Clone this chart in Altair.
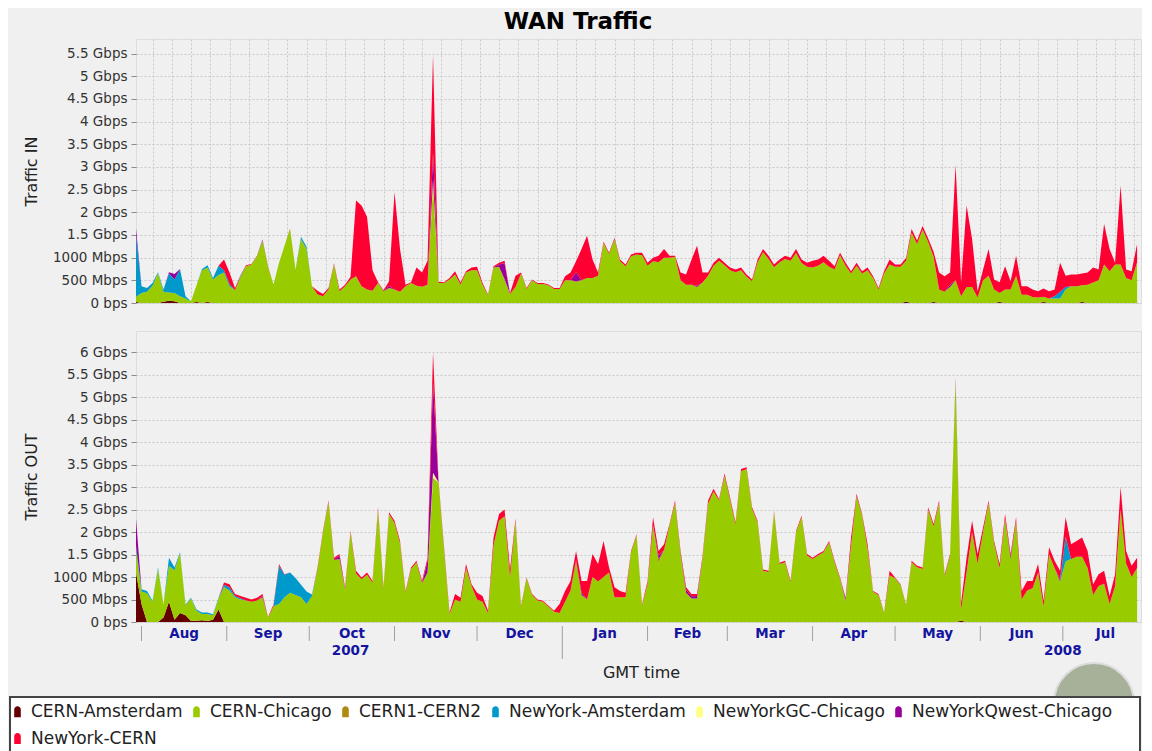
import altair as alt
import pandas as pd

# ---------------------------------------------------------------- data
START = pd.Timestamp("2007-07-30")
STEP = 2  # days between samples

SERIES = ["CERN-Amsterdam", "CERN-Chicago", "CERN1-CERN2", "NewYork-Amsterdam",
          "NewYorkGC-Chicago", "NewYorkQwest-Chicago", "NewYork-CERN"]
COLORS = ["#660000", "#99CC00", "#B08A10", "#0099CC", "#FFFF80", "#990099", "#FF0033"]

# Traffic IN, Gbps, one sample every 2 days from 2007-07-30
IN_CERN_CHICAGO = [
    0.12, 0.22, 0.25, 0.38, 0.66, 0.22, 0.18, 0.18, 0.15, 0.10,
    0.04, 0.37, 0.72, 0.76, 0.52, 0.62, 0.67, 0.37, 0.28, 0.58,
    0.81, 0.85, 1.03, 1.37, 0.80, 0.41, 0.89, 1.26, 1.63, 0.74,
    1.41, 1.19, 0.37, 0.19, 0.15, 0.30, 0.85, 0.26, 0.37, 0.52,
    0.59, 0.37, 0.30, 0.27, 0.44, 0.26, 0.33, 0.30, 0.25, 0.37,
    0.44, 0.38, 0.36, 0.40, 2.60, 0.44, 0.44, 0.52, 0.63, 0.41,
    0.67, 0.72, 0.72, 0.40, 0.17, 0.78, 0.80, 0.50, 0.20, 0.35,
    0.65, 0.31, 0.50, 0.42, 0.42, 0.39, 0.31, 0.31, 0.50, 0.50,
    0.45, 0.50, 0.55, 0.55, 0.60, 1.32, 1.08, 1.41, 0.92, 0.81,
    1.03, 1.07, 1.05, 0.82, 0.92, 0.90, 1.00, 1.00, 1.02, 0.50,
    0.40, 0.40, 0.35, 0.45, 0.60, 0.82, 0.93, 0.83, 0.72, 0.68,
    0.72, 0.58, 0.48, 0.90, 1.12, 0.97, 0.79, 0.90, 0.97, 0.93,
    1.10, 0.88, 0.80, 0.78, 0.82, 0.90, 0.80, 0.74, 1.05, 0.82,
    0.65, 0.82, 0.65, 0.72, 0.55, 0.30, 0.65, 0.85, 0.80, 0.80,
    0.90, 1.55, 1.30, 1.62, 1.35, 1.00, 0.30, 0.25, 0.35, 0.50,
    0.15, 0.35, 0.35, 0.12, 0.50, 0.60, 0.30, 0.20, 0.30, 0.30,
    0.60, 0.18, 0.18, 0.13, 0.12, 0.12, 0.10, 0.10, 0.10, 0.30,
    0.37, 0.37, 0.37, 0.40, 0.45, 0.50, 0.85, 0.70, 0.85, 0.85,
    0.55, 0.50, 0.90,
]
IN_NEWYORK_CERN = [
    0.00, 0.00, 0.00, 0.00, 0.00, 0.00, 0.00, 0.00, 0.00, 0.00,
    0.00, 0.00, 0.00, 0.00, 0.00, 0.00, 0.24, 0.25, 0.05, 0.01,
    0.02, 0.01, 0.01, 0.00, 0.01, 0.00, 0.00, 0.00, 0.01, 0.00,
    0.00, 0.00, 0.00, 0.08, 0.05, 0.03, 0.02, 0.04, 0.03, 0.06,
    1.67, 1.78, 1.60, 0.45, 0.02, 0.02, 0.10, 2.14, 0.94, 0.03,
    0.02, 0.40, 0.31, 0.53, 2.15, 0.03, 0.02, 0.03, 0.07, 0.04,
    0.03, 0.06, 0.08, 0.04, 0.02, 0.03, 0.04, 0.05, 0.02, 0.25,
    0.02, 0.02, 0.02, 0.02, 0.02, 0.02, 0.02, 0.02, 0.09, 0.17,
    0.24, 0.69, 0.93, 0.41, 0.07, 0.03, 0.03, 0.03, 0.04, 0.04,
    0.04, 0.04, 0.06, 0.07, 0.08, 0.14, 0.19, 0.04, 0.02, 0.17,
    0.23, 0.56, 0.88, 0.22, 0.07, 0.07, 0.07, 0.06, 0.06, 0.06,
    0.06, 0.05, 0.04, 0.06, 0.07, 0.07, 0.06, 0.06, 0.07, 0.07,
    0.09, 0.08, 0.09, 0.15, 0.14, 0.14, 0.13, 0.07, 0.06, 0.07,
    0.05, 0.07, 0.05, 0.06, 0.04, 0.03, 0.05, 0.11, 0.05, 0.05,
    0.06, 0.08, 0.08, 0.08, 0.08, 0.11, 0.37, 0.34, 0.27, 2.55,
    0.30, 1.80, 1.06, 0.14, 0.24, 0.59, 0.22, 0.24, 0.51, 0.18,
    0.44, 0.19, 0.19, 0.17, 0.14, 0.18, 0.16, 0.15, 0.64, 0.25,
    0.26, 0.26, 0.26, 0.27, 0.33, 0.24, 0.89, 0.49, 0.04, 1.74,
    0.19, 0.20, 0.40,
]
# sparse series: (day offset from 2007-07-30, Gbps)
IN_CERN_AMSTERDAM = [(0, 0.02), (10, 0.03), (12, 0.05), (14, 0.04), (22, 0.02), (26, 0.02),
                     (280, 0.03), (290, 0.02), (314, 0.02), (330, 0.02), (344, 0.02)]
IN_CERN1_CERN2 = [(134, 0.03), (160, 0.03)]
IN_NEWYORK_AMSTERDAM = [(0, 1.35), (2, 0.15), (4, 0.08), (6, 0.06), (8, 0.02), (10, 0.05),
                        (12, 0.42), (14, 0.30), (16, 0.60), (18, 0.05), (24, 0.03), (26, 0.05),
                        (28, 0.03), (30, 0.20), (32, 0.05), (34, 0.05), (38, 0.02), (60, 0.05),
                        (62, 0.05), (334, 0.05), (336, 0.15), (338, 0.05)]
IN_NEWYORKGC_CHICAGO = [(108, 0.12)]
IN_NEWYORKQWEST_CHICAGO = [(0, 0.15), (12, 0.03), (14, 0.12), (46, 0.03), (92, 0.05), (108, 0.60),
                           (132, 0.05), (134, 0.35), (160, 0.20), (204, 0.03), (296, 0.05)]

# Traffic OUT, Gbps, one sample every 2 days from 2007-07-30
OUT_CERN_CHICAGO = [
    0.50, 0.28, 0.64, 0.45, 1.18, 0.29, 0.80, 1.10, 1.33, 0.22,
    0.50, 0.22, 0.14, 0.16, 0.10, 0.24, 0.78, 0.70, 0.55, 0.50,
    0.48, 0.45, 0.48, 0.55, 0.10, 0.35, 0.40, 0.55, 0.65, 0.60,
    0.55, 0.40, 0.58, 1.18, 2.00, 2.67, 1.38, 1.40, 0.72, 2.00,
    1.08, 0.95, 1.05, 0.87, 2.50, 0.74, 2.40, 2.20, 1.75, 0.66,
    1.18, 1.33, 0.86, 1.10, 3.20, 3.10, 1.60, 0.18, 0.50, 0.45,
    1.20, 0.80, 0.50, 0.45, 0.20, 1.70, 2.25, 2.35, 1.00, 2.25,
    0.34, 0.97, 0.60, 0.48, 0.45, 0.34, 0.23, 0.20, 0.45, 0.70,
    1.35, 0.60, 0.50, 1.00, 0.90, 1.00, 1.10, 0.55, 0.55, 0.55,
    1.55, 1.93, 0.36, 0.85, 2.15, 1.30, 1.60, 2.15, 2.65, 1.52,
    0.65, 0.52, 0.52, 1.42, 2.63, 2.90, 2.70, 3.25, 2.72, 2.17,
    3.35, 3.40, 2.52, 2.22, 1.14, 1.11, 2.44, 1.29, 1.33, 0.88,
    2.00, 2.33, 1.48, 1.40, 1.48, 1.55, 1.77, 1.33, 0.96, 0.44,
    1.70, 2.80, 2.37, 1.63, 0.67, 0.60, 0.20, 1.04, 0.97, 0.82,
    0.38, 1.33, 1.22, 1.18, 2.50, 2.13, 2.65, 1.03, 1.48, 5.35,
    0.25, 1.10, 2.00, 1.30, 2.00, 2.65, 1.75, 1.20, 2.30, 1.40,
    2.25, 0.50, 0.70, 0.75, 1.10, 0.35, 1.50, 1.20, 0.90, 1.35,
    1.40, 1.45, 1.45, 1.20, 0.60, 0.80, 0.85, 0.40, 0.80, 2.50,
    1.30, 1.00, 1.20,
]
OUT_NEWYORK_CERN = [
    0.00, 0.00, 0.00, 0.00, 0.00, 0.00, 0.00, 0.00, 0.00, 0.00,
    0.00, 0.00, 0.00, 0.00, 0.00, 0.00, 0.05, 0.07, 0.04, 0.05,
    0.06, 0.05, 0.06, 0.04, 0.01, 0.04, 0.04, 0.01, 0.00, 0.00,
    0.00, 0.00, 0.00, 0.03, 0.03, 0.03, 0.05, 0.03, 0.05, 0.03,
    0.06, 0.04, 0.05, 0.04, 0.05, 0.03, 0.04, 0.05, 0.05, 0.03,
    0.03, 0.03, 0.05, 0.08, 0.68, 0.04, 0.06, 0.03, 0.12, 0.09,
    0.09, 0.04, 0.15, 0.13, 0.05, 0.18, 0.15, 0.15, 0.17, 0.05,
    0.02, 0.02, 0.02, 0.02, 0.02, 0.02, 0.02, 0.20, 0.24, 0.21,
    0.20, 0.26, 0.41, 0.51, 0.39, 0.80, 0.11, 0.22, 0.14, 0.10,
    0.03, 0.02, 0.03, 0.06, 0.18, 0.10, 0.13, 0.03, 0.05, 0.06,
    0.06, 0.05, 0.04, 0.05, 0.07, 0.06, 0.03, 0.05, 0.05, 0.04,
    0.05, 0.04, 0.03, 0.03, 0.03, 0.03, 0.03, 0.03, 0.03, 0.03,
    0.03, 0.03, 0.03, 0.03, 0.03, 0.03, 0.03, 0.03, 0.03, 0.00,
    0.18, 0.05, 0.03, 0.10, 0.02, 0.02, 0.01, 0.10, 0.02, 0.02,
    0.01, 0.03, 0.03, 0.03, 0.05, 0.05, 0.05, 0.03, 0.03, 0.03,
    0.14, 0.33, 0.25, 0.21, 0.10, 0.05, 0.05, 0.09, 0.10, 0.06,
    0.08, 0.19, 0.21, 0.16, 0.19, 0.12, 0.16, 0.16, 0.19, 0.43,
    0.33, 0.35, 0.43, 0.38, 0.24, 0.26, 0.29, 0.18, 0.26, 0.50,
    0.28, 0.25, 0.23,
]
OUT_CERN_AMSTERDAM = [(0, 1.10), (2, 0.40), (10, 0.10), (12, 0.45), (14, 0.05), (16, 0.20),
                      (18, 0.15), (20, 0.02), (22, 0.03), (24, 0.04), (26, 0.02), (28, 0.05),
                      (30, 0.28), (300, 0.03)]
OUT_CERN1_CERN2 = [(190, 0.10), (258, 0.05)]
OUT_NEWYORK_AMSTERDAM = [(0, 0.10), (2, 0.05), (4, 0.05), (6, 0.02), (8, 0.03), (12, 0.18),
                         (14, 0.06), (16, 0.02), (18, 0.02), (20, 0.02), (22, 0.03), (24, 0.03),
                         (26, 0.03), (28, 0.02), (30, 0.02), (32, 0.05), (34, 0.07), (36, 0.03),
                         (38, 0.03), (52, 0.85), (54, 0.50), (56, 0.45), (58, 0.38), (60, 0.28),
                         (62, 0.28), (64, 0.03), (338, 0.55)]
OUT_NEWYORKGC_CHICAGO = [(108, 0.12)]
OUT_NEWYORKQWEST_CHICAGO = [(0, 0.60), (46, 0.03), (74, 0.08), (106, 0.25), (108, 2.00),
                            (160, 0.03), (162, 0.05), (190, 0.08), (200, 0.06), (202, 0.05),
                            (204, 0.06), (258, 0.05), (298, 0.05), (318, 0.05), (336, 0.05)]

IN_TICKS = [0, 0.5, 1, 1.5, 2, 2.5, 3, 3.5, 4, 4.5, 5, 5.5]
OUT_TICKS = [0, 0.5, 1, 1.5, 2, 2.5, 3, 3.5, 4, 4.5, 5, 5.5, 6]
MONTH_NAMES = ["Aug", "Sep", "Oct", "Nov", "Dec", "Jan", "Feb", "Mar", "Apr", "May", "Jun", "Jul"]
MONTH_STARTS = ["2007-08-01", "2007-09-01", "2007-10-01", "2007-11-01", "2007-12-01", "2008-01-01",
                "2008-02-01", "2008-03-01", "2008-04-01", "2008-05-01", "2008-06-01", "2008-07-01",
                "2008-08-01"]
YEAR_NAMES = ["2007", "2008"]
YEAR_LABEL_AT = ["2007-10-16", "2008-07-01"]
YEAR_BREAK = ["2008-01-01"]
X_TITLE = "GMT time"

assert len(IN_CERN_CHICAGO) == 183 and len(IN_NEWYORK_CERN) == 183
assert len(OUT_CERN_CHICAGO) == 183 and len(OUT_NEWYORK_CERN) == 183


def panel_frame(dense, sparse):
    n = len(dense["CERN-Chicago"])
    times = [START + pd.Timedelta(days=STEP * i) for i in range(n)]
    rows = []
    for k, name in enumerate(SERIES):
        vals = list(dense.get(name, [0.0] * n))
        for day, v in sparse.get(name, []):
            vals[day // STEP] = v
        for t, v in zip(times, vals):
            rows.append({"time": t, "series": name, "k": k, "gbps": v})
    return pd.DataFrame(rows)


df_in = panel_frame(
    {"CERN-Chicago": IN_CERN_CHICAGO, "NewYork-CERN": IN_NEWYORK_CERN},
    {"CERN-Amsterdam": IN_CERN_AMSTERDAM, "CERN1-CERN2": IN_CERN1_CERN2,
     "NewYork-Amsterdam": IN_NEWYORK_AMSTERDAM, "NewYorkGC-Chicago": IN_NEWYORKGC_CHICAGO,
     "NewYorkQwest-Chicago": IN_NEWYORKQWEST_CHICAGO})
df_out = panel_frame(
    {"CERN-Chicago": OUT_CERN_CHICAGO, "NewYork-CERN": OUT_NEWYORK_CERN},
    {"CERN-Amsterdam": OUT_CERN_AMSTERDAM, "CERN1-CERN2": OUT_CERN1_CERN2,
     "NewYork-Amsterdam": OUT_NEWYORK_AMSTERDAM, "NewYorkGC-Chicago": OUT_NEWYORKGC_CHICAGO,
     "NewYorkQwest-Chicago": OUT_NEWYORKQWEST_CHICAGO})

ms = pd.to_datetime(MONTH_STARTS)
months_df = pd.DataFrame({"label": MONTH_NAMES, "mid": [ms[i] + (ms[i + 1] - ms[i]) / 2 for i in range(12)]})
seps_df = pd.DataFrame({"start": [d for d in ms[:-1] if d.month != 1]})
jan_df = pd.DataFrame({"start": pd.to_datetime(YEAR_BREAK)})
years_df = pd.DataFrame({"label": YEAR_NAMES, "at": pd.to_datetime(YEAR_LABEL_AT)})
one_df = pd.DataFrame({"k": [0], "title": [X_TITLE]})

# ---------------------------------------------------------------- chart
W, H1, H2 = 1005, 264, 291
FONT = "DejaVu Sans"
GRID = dict(grid=True, gridDash=[2, 2], gridColor="#C8C8C8", gridWidth=1)

xscale = alt.Scale(domain=[alt.DateTime(year=2007, month=7, date=30),
                           alt.DateTime(year=2008, month=7, date=29, hours=10)])
cscale = alt.Scale(domain=SERIES, range=COLORS)
LABEL_EXPR = ("datum.value == 0 ? '0 bps' : (datum.value < 1.2 ? format(datum.value * 1000, 'd') + ' Mbps'"
              " : format(datum.value, '~g') + ' Gbps')")
WEEK = alt.TimeIntervalStep(interval="week", step=1)


def yaxis(title, ticks):
    return alt.Axis(title=title, values=ticks, labelExpr=LABEL_EXPR, domain=False,
                    tickColor="#8C8C8C", tickSize=5, labelPadding=4, titlePadding=13,
                    labelFontSize=13.5, labelColor="#333333", titleFontSize=16,
                    titleFontWeight="normal", titleColor="#222222", **GRID)


top = alt.Chart(df_in).mark_area(interpolate="linear").encode(
    x=alt.X("time:T", scale=xscale,
            axis=alt.Axis(title=None, labels=False, ticks=False, domain=False, tickCount=WEEK, **GRID)),
    y=alt.Y("gbps:Q", stack="zero", scale=alt.Scale(domain=[0, 5.82], nice=False),
            axis=yaxis("Traffic IN", IN_TICKS)),
    color=alt.Color("series:N", scale=cscale, legend=None),
    order=alt.Order("k:Q", sort="ascending"),
).properties(width=W, height=H1)

SYMBOL = "M-0.55,0.9 L-0.55,-0.35 A0.55,0.55 0 0 1 0.55,-0.35 L0.55,0.9 Z"
legend = alt.Legend(title=None, orient="none", legendX=-127, legendY=372, direction="horizontal",
                    columns=6, symbolType=SYMBOL, symbolSize=144, symbolStrokeWidth=0,
                    symbolOpacity=1, labelFont=FONT, labelFontSize=17, labelColor="#222222",
                    labelOffset=5, columnPadding=5, rowPadding=9, padding=0, labelLimit=400)

area_out = alt.Chart(df_out).mark_area(interpolate="linear").encode(
    x=alt.X("time:T", scale=xscale,
            axis=alt.Axis(title=None, labels=False, domain=False, tickCount=WEEK, tickSize=3,
                          tickColor="#8C8C8C", **GRID)),
    y=alt.Y("gbps:Q", stack="zero", scale=alt.Scale(domain=[0, 6.47], nice=False),
            axis=yaxis("Traffic OUT", OUT_TICKS)),
    color=alt.Color("series:N", scale=cscale, legend=legend),
    order=alt.Order("k:Q", sort="ascending"),
)

globe = alt.Chart(one_df).mark_point(
    filled=True, size=6400, opacity=1, fill="#a7b19a", stroke="#dcdcdc", strokeWidth=2,
).encode(x=alt.value(958), y=alt.value(372))

box = alt.Chart(one_df).mark_rect(fill="white", stroke="#444444", strokeWidth=2).encode(
    x=alt.value(-126), x2=alt.value(W - 1), y=alt.value(366), y2=alt.value(432))

seps = alt.Chart(seps_df).mark_rule(color="#A0A0A0", strokeWidth=1).encode(
    x=alt.X("start:T", scale=xscale, axis=None), y=alt.value(H2 + 4), y2=alt.value(H2 + 19))
jan = alt.Chart(jan_df).mark_rule(color="#A0A0A0", strokeWidth=1).encode(
    x=alt.X("start:T", scale=xscale, axis=None), y=alt.value(H2 + 4), y2=alt.value(H2 + 37))
mlab = alt.Chart(months_df).mark_text(font=FONT, fontSize=13.5, fontWeight="bold", color="#1414A0",
                                      baseline="middle", align="center").encode(
    x=alt.X("mid:T", scale=xscale, axis=None), y=alt.value(H2 + 12), text="label:N")
ylab = alt.Chart(years_df).mark_text(font=FONT, fontSize=13.5, fontWeight="bold", color="#1414A0",
                                     baseline="middle", align="center").encode(
    x=alt.X("at:T", scale=xscale, axis=None), y=alt.value(H2 + 29), text="label:N")
xtitle = alt.Chart(one_df).mark_text(font=FONT, fontSize=16, color="#222222",
                                     baseline="middle", align="center").encode(
    x=alt.value(W / 2 + 3), y=alt.value(H2 + 51), text="title:N")

bottom = alt.layer(globe, box, area_out, seps, jan, mlab, ylab, xtitle).properties(width=W, height=H2)

chart = alt.vconcat(top, bottom, spacing=20).resolve_scale(color="independent").properties(
    title=alt.Title("WAN Traffic", fontSize=23, font=FONT, fontWeight="bold", anchor="middle",
                    offset=5, color="#000000", dx=3),
    background="#F0F0F0",
    padding={"left": 0, "top": 2, "right": 0, "bottom": 0},
).configure_view(fill="white", stroke="#9A9A9A", strokeWidth=1).configure(font=FONT).configure_axis(
    labelFont=FONT, titleFont=FONT)

chart.save("out.html", embed_options={"renderer": "svg", "actions": False})
